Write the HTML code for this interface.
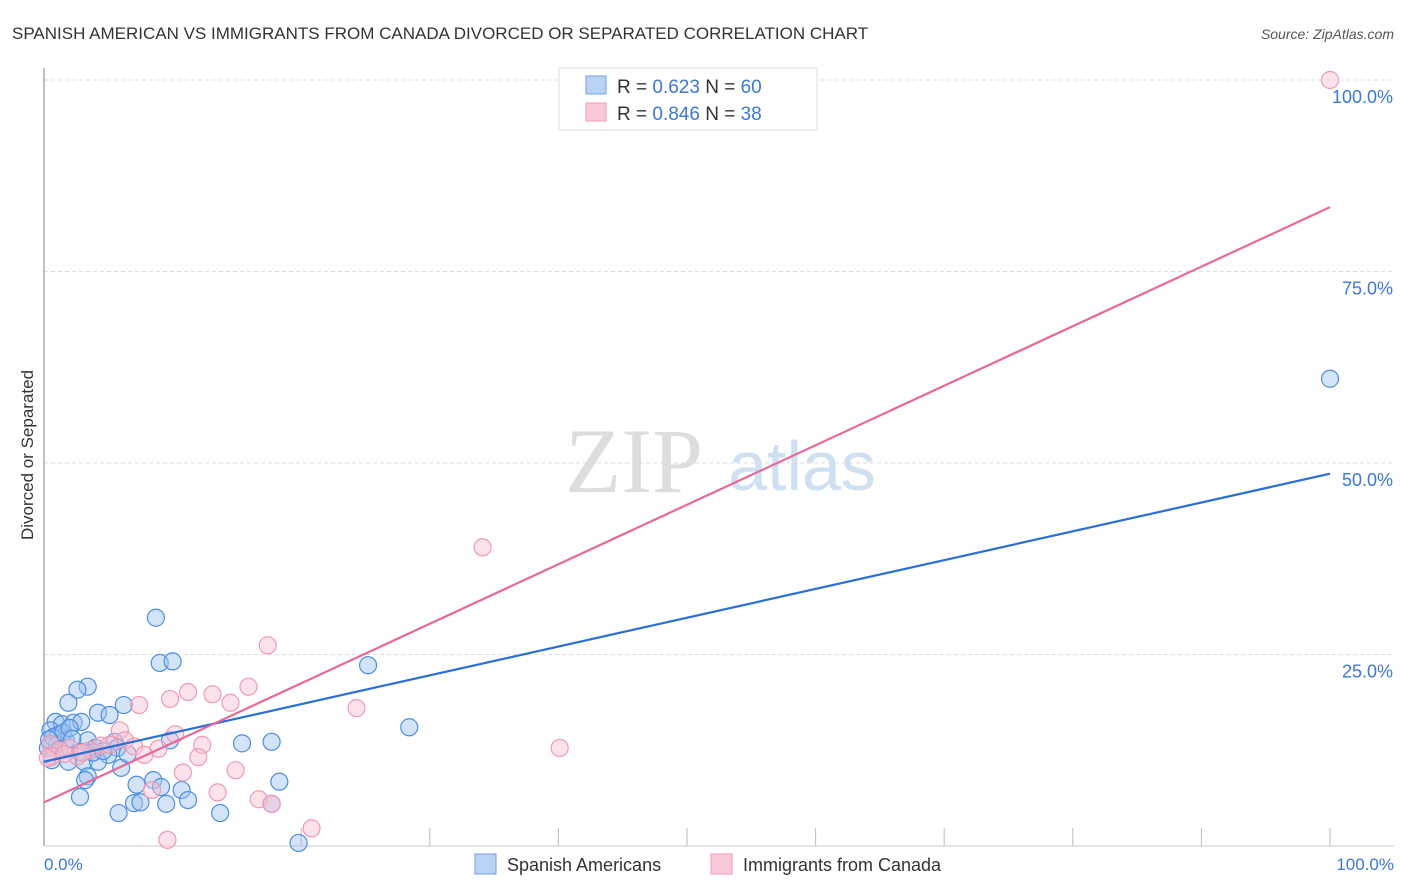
<!DOCTYPE html>
<html><head><meta charset="utf-8"><style>
body{margin:0;background:#fff;font-family:"Liberation Sans",sans-serif}
svg{display:block}
</style></head><body>
<svg width="1406" height="892" viewBox="0 0 1406 892" xmlns="http://www.w3.org/2000/svg">
<text x="12" y="39" font-size="17" fill="#333">SPANISH AMERICAN VS IMMIGRANTS FROM CANADA DIVORCED OR SEPARATED CORRELATION CHART</text>
<text x="1394" y="39" font-size="14" fill="#555" font-style="italic" text-anchor="end">Source: ZipAtlas.com</text>
<g>
<text x="634" y="492" font-size="92" fill="#ddd" font-family="Liberation Serif,serif" text-anchor="middle">ZIP</text>
<text x="802" y="490" font-size="70" fill="#cfe0f3" text-anchor="middle">atlas</text>
</g>
<g id="grid"></g>
<line x1="44" y1="68" x2="44" y2="846" stroke="#aaa" stroke-width="1.5"/>
<line x1="44" y1="846" x2="1394" y2="846" stroke="#ccc"/>
<g id="ticks"></g>
<g id="ylabels"></g>
<text x="44" y="870" font-size="17" fill="#3b78d8">0.0%</text>
<text x="1394" y="870" font-size="17" fill="#3b78d8" text-anchor="end">100.0%</text>
<text transform="translate(33,455) rotate(-90)" font-size="17" fill="#333" text-anchor="middle">Divorced or Separated</text>
<g id="pts"></g>
<g id="lines"></g>
<g>
<rect x="559" y="68" width="258" height="62" fill="#fff" stroke="#ddd"/>
<rect x="586" y="76" width="20" height="18" fill="#b9d3f5" stroke="#6fa0e6"/>
<rect x="586" y="103" width="20" height="18" fill="#fbcad8" stroke="#f09ab5"/>
<text x="617" y="93" font-size="19" fill="#333">R = <tspan fill="#3b78d8">0.623</tspan>   N = <tspan fill="#3b78d8">60</tspan></text>
<text x="617" y="120" font-size="19" fill="#333">R = <tspan fill="#3b78d8">0.846</tspan>   N = <tspan fill="#3b78d8">38</tspan></text>
</g>
<g>
<rect x="475" y="854" width="21" height="20" fill="#b9d3f5" stroke="#6fa0e6"/>
<text x="507" y="871" font-size="18" fill="#333">Spanish Americans</text>
<rect x="711" y="854" width="21" height="20" fill="#fbcad8" stroke="#f09ab5"/>
<text x="743" y="871" font-size="18" fill="#333">Immigrants from Canada</text>
</g>
</svg>
<script>
const yTicks=[25,50,75,100];
const yTickLabels=["25.0%","50.0%","75.0%","100.0%"];
const xTicks=[20,30,40,50,60,70,80,90,100];
const blueX=[8.7,9.0,10.0,25.2,28.4,100,3.4,2.6,1.9,6.2,4.2,5.1,0.9,1.4,2.3,2.9,0.5,1.1,1.7,3.4,5.5,5.7,9.8,15.4,17.7,4.0,2.8,5.0,1.9,3.1,4.2,6.0,3.4,3.2,7.2,8.5,9.1,10.7,18.3,2.8,7.0,7.5,9.5,11.2,5.8,13.7,17.7,19.8,0.3,0.6,1.0,0.7,1.5,2.0,3.8,0.4,1.2,4.6,6.5,2.2];
const blueY=[29.8,23.9,24.1,23.6,15.5,61,20.8,20.4,18.7,18.4,17.4,17.1,16.2,15.9,16.1,16.2,15.1,14.5,13.8,13.8,13.6,12.8,13.8,13.4,13.6,12.8,12.3,11.9,11.0,11.0,11.0,10.2,9.1,8.6,8.0,8.6,7.7,7.3,8.4,6.4,5.6,5.7,5.5,6.0,4.3,4.3,5.5,0.4,12.8,11.2,13.2,14.2,14.8,15.4,12.2,13.9,12.6,12.4,12.0,14.0];
const pinkX=[100,34.1,17.4,15.9,11.2,13.1,9.8,7.4,14.5,24.3,10.2,5.9,40.1,6.3,12.3,8.9,7.0,7.8,12.0,14.9,10.8,13.5,16.7,8.4,17.7,20.8,9.6,0.5,1.2,2.0,3.6,4.4,0.6,2.6,5.1,1.6,3.0,0.3];
const pinkY=[100,39,26.2,20.8,20.1,19.8,19.2,18.4,18.7,18.0,14.6,15.1,12.8,13.8,13.2,12.7,13.0,11.9,11.6,9.9,9.6,7.0,6.1,7.3,5.5,2.3,0.8,13.3,12.5,12.8,12.5,13.1,11.7,11.7,13.2,12.0,12.2,11.5];
const blueLine=[11.0,48.6];
const pinkLine=[5.7,83.4];
const NS="http://www.w3.org/2000/svg";
const sx=v=>44+v*12.86;
const sy=v=>846-v*7.66;
function mk(tag,attrs,parent){const e=document.createElementNS(NS,tag);for(const k in attrs)e.setAttribute(k,attrs[k]);document.getElementById(parent).appendChild(e);return e;}
yTicks.forEach((t,i)=>{
 const g=mk('line',{x1:44,x2:1394,y1:sy(t),y2:sy(t),stroke:'#ddd','stroke-dasharray':'4,3'},'grid');
 
 
 const l=mk('text',{x:1393,y:sy(t)+23,'font-size':18,fill:'#3b78d8','text-anchor':'end'},'ylabels');
 l.textContent=yTickLabels[i];
 
 
});
xTicks.forEach(t=>{
 const e=mk('line',{x1:sx(t),x2:sx(t),y1:828,y2:846,stroke:'#bbb'},'ticks');
 
 
});
blueX.forEach((x,i)=>{
 const c=mk('circle',{cx:sx(x),cy:sy(blueY[i]),r:8.5,fill:'rgba(160,196,240,0.45)',stroke:'#4c8ee0','stroke-width':1.2},'pts');
 
 
});
pinkX.forEach((x,i)=>{
 const c=mk('circle',{cx:sx(x),cy:sy(pinkY[i]),r:8.5,fill:'rgba(248,190,208,0.45)',stroke:'#ee9ab3','stroke-width':1.2},'pts');
 
 
});
const bl=mk('line',{x1:sx(0),y1:sy(blueLine[0]),x2:sx(100),y2:sy(blueLine[1]),stroke:'#2a6fd6','stroke-width':2.2},'lines');


const pl=mk('line',{x1:sx(0),y1:sy(pinkLine[0]),x2:sx(100),y2:sy(pinkLine[1]),stroke:'#e8689a','stroke-width':2.2},'lines');


</script>
</body></html>
